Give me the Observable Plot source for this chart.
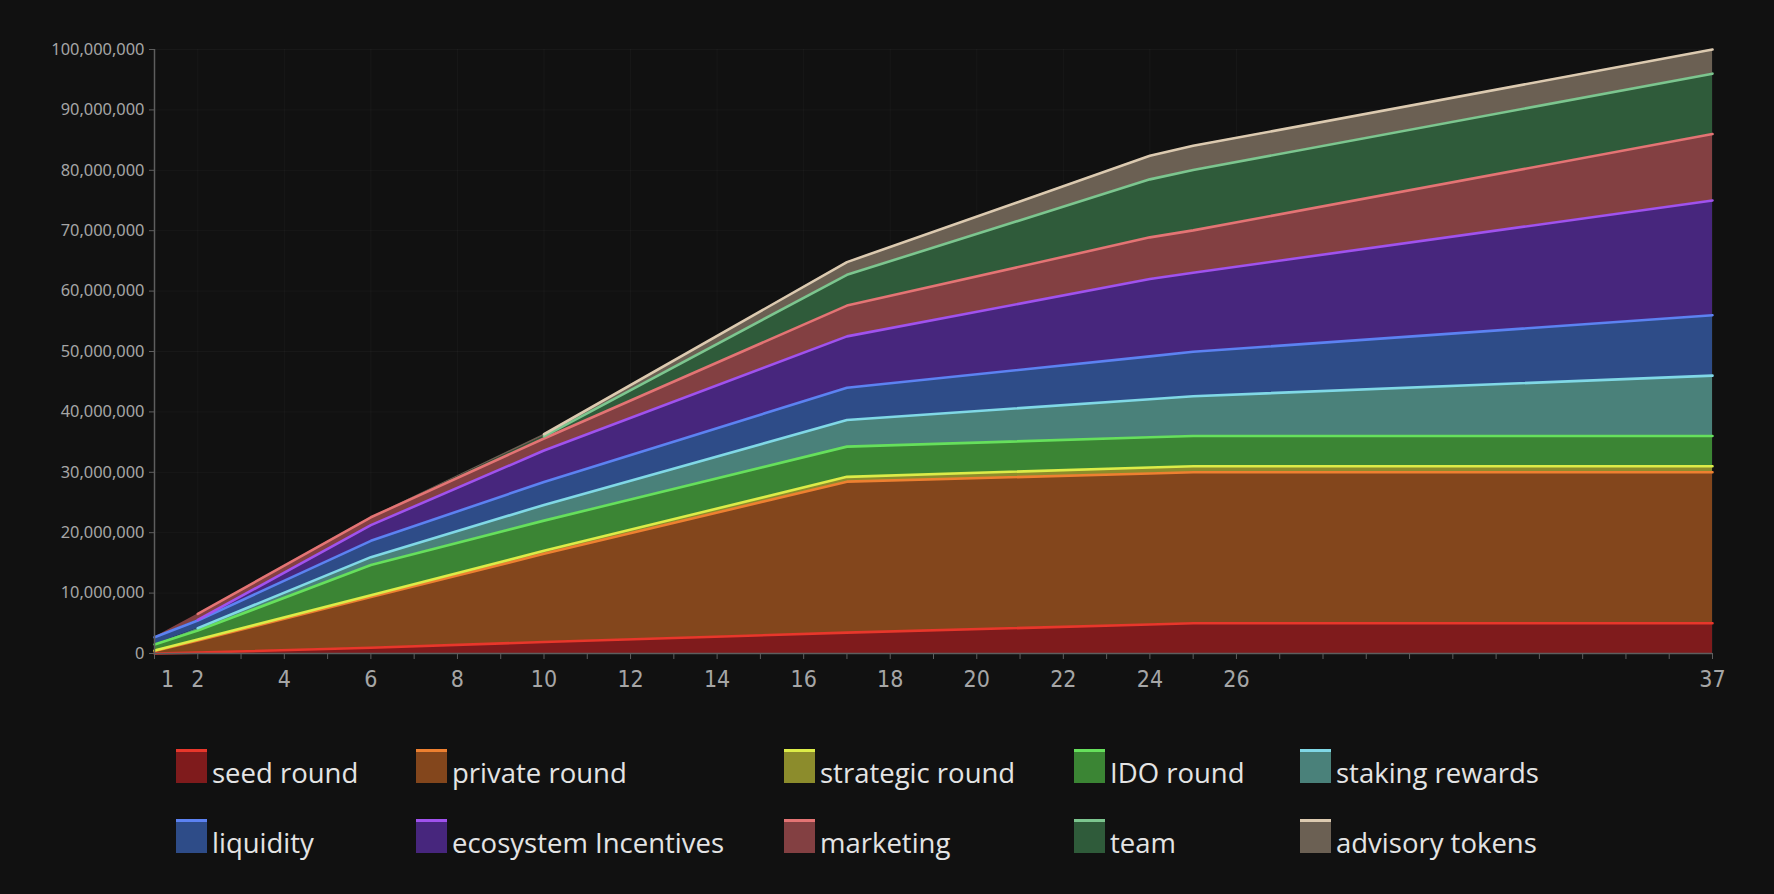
<!DOCTYPE html>
<html>
<head>
<meta charset="utf-8">
<script src="https://cdn.jsdelivr.net/npm/d3@7"></script>
<script src="https://cdn.jsdelivr.net/npm/@observablehq/plot@0.6"></script>
<style>
  html, body { margin: 0; padding: 0; background: #111111; }
  #chart { width: 1774px; height: 720px; }
  #legend {
    display: grid;
    grid-template-columns: 240px 368px 290px 226px auto;
    grid-auto-rows: 70px;
    margin-left: 176px;
    margin-top: 29px;
  }
  .item { display: flex; align-items: baseline; }
  .sw { width: 31px; height: 34px; box-sizing: border-box; border-top: 3px solid; }
  .lab { font-family: "Open Sans", "Noto Sans", sans-serif; font-size: 27.5px; color: #e4e4e4; margin-left: 5px; white-space: nowrap; }
</style>
</head>
<body>
<div id="chart"></div>
<div id="legend"></div>
<script>
// Months (x positions of the data points)
const months = [1, 2, 6, 10, 17, 24, 25, 37];

// Series names (stack order, bottom to top)
const seriesNames = ["seed round", "private round", "strategic round", "IDO round", "staking rewards",
  "liquidity", "ecosystem Incentives", "marketing", "team", "advisory tokens"];

// Unlocked tokens per series, in millions (null = not yet started)
const seedRound       = [0,    0.15, 0.95, 1.9,  3.45, 4.8,  5.0,  5.0];
const privateRound    = [0.4,  2.0,  8.4,  14.6, 25.0, 25.0, 25.0, 25.0];
const strategicRound  = [0.1,  0.15, 0.3,  0.5,  0.8,  1.0,  1.0,  1.0];
const idoRound        = [1.0,  1.5,  5.0,  5.0,  5.0,  5.0,  5.0,  5.0];
const stakingRewards  = [null, 0.4,  1.3,  2.6,  4.4,  6.3,  6.6,  10.0];
const liquidity       = [1.2,  1.25, 2.7,  3.8,  5.35, 7.1,  7.35, 10.0];
const ecosystem       = [null, 0.1,  2.6,  5.2,  8.5,  12.8, 13.1, 19.0];
const marketing       = [null, 1.0,  1.3,  2.0,  5.1,  6.9,  7.0,  11.0];
const team            = [null, null, null, 0.35, 5.1,  9.6,  10.0, 10.0];
const advisoryTokens  = [null, null, null, 0.35, 2.1,  3.9,  4.0,  4.0];

const seriesValues = [seedRound, privateRound, strategicRound, idoRound, stakingRewards,
  liquidity, ecosystem, marketing, team, advisoryTokens];

const fillColors   = ["#7f1b1c", "#83461c", "#8c8c2c", "#3b8534", "#4a817a",
  "#2e4c88", "#47267d", "#834042", "#2f5b3a", "#6b6053"];
const strokeColors = ["#e8372b", "#ee8030", "#dcec48", "#66e05c", "#80d8e6",
  "#5c82f2", "#a052ee", "#e47474", "#7cc68f", "#dccab0"];

// Axis ticks
const yTicks = d3.range(0, 101, 10);
const xTickMarks = d3.range(1, 38);
const xTickLabels = [1, 2, 4, 6, 8, 10, 12, 14, 16, 18, 20, 22, 24, 26, 37];

// Build tidy rows
const fillOf = Object.fromEntries(seriesNames.map((s, i) => [s, fillColors[i]]));
const strokeOf = Object.fromEntries(seriesNames.map((s, i) => [s, strokeColors[i]]));
const rows = [];
seriesNames.forEach((name, si) => {
  months.forEach((m, mi) => {
    const v = seriesValues[si][mi];
    rows.push({series: name, month: m, value: v == null ? 0 : v, defined: v != null});
  });
});

const axisColor = "#5e5e5e";
const labelColor = "#a6a6a6";

const chart = Plot.plot({
  width: 1774,
  height: 720,
  marginLeft: 154,
  marginRight: 62,
  marginTop: 49,
  marginBottom: 67,
  style: {background: "transparent", overflow: "visible"},
  x: {type: "linear", domain: [1, 37], label: null},
  y: {domain: [0, 100], label: null},
  color: {type: "identity"},
  marks: [
    Plot.gridY(yTicks, {stroke: "#ffffff", strokeOpacity: 0.03}),
    Plot.gridX(xTickLabels, {stroke: "#ffffff", strokeOpacity: 0.03}),
    Plot.areaY(rows, {x: "month", y: "value", z: "series", fill: d => fillOf[d.series], curve: "linear"}),
    Plot.lineY(rows, Plot.stackY2({x: "month", y: "value", z: "series", stroke: d => strokeOf[d.series],
      strokeWidth: 2.6, curve: "linear", filter: d => d.defined})),
    Plot.ruleY([0], {stroke: axisColor, strokeWidth: 1.5}),
    Plot.ruleX([1], {stroke: axisColor, strokeWidth: 1.5}),
    Plot.axisY(yTicks, {tickSize: 5, tickFormat: () => "", color: axisColor, label: null}),
    Plot.axisY(yTicks, {tickSize: 0, tickPadding: 10, tickFormat: d => d3.format(",")(d * 1e6),
      color: labelColor, fontSize: 16.4, fontFamily: "Noto Sans, sans-serif", label: null}),
    Plot.axisX(xTickMarks, {tickSize: 6, tickFormat: () => "", color: axisColor, label: null}),
    Plot.axisX(xTickLabels.filter(d => d !== 1), {tickSize: 0, tickPadding: 17, color: labelColor,
      fontSize: 23, fontFamily: "Liberation Sans Narrow, DejaVu Sans Condensed, sans-serif", label: null}),
    Plot.axisX([1], {tickSize: 0, tickPadding: 17, dx: 13, color: labelColor,
      fontSize: 23, fontFamily: "Liberation Sans Narrow, DejaVu Sans Condensed, sans-serif", label: null})
  ]
});
document.getElementById("chart").appendChild(chart);

// Legend (HTML, below the SVG)
const legend = document.getElementById("legend");
seriesNames.forEach((name, i) => {
  const item = document.createElement("div");
  item.className = "item";
  const sw = document.createElement("div");
  sw.className = "sw";
  sw.style.background = fillColors[i];
  sw.style.borderTopColor = strokeColors[i];
  const lab = document.createElement("span");
  lab.className = "lab";
  lab.textContent = name;
  item.appendChild(sw);
  item.appendChild(lab);
  legend.appendChild(item);
});
</script>
</body>
</html>
